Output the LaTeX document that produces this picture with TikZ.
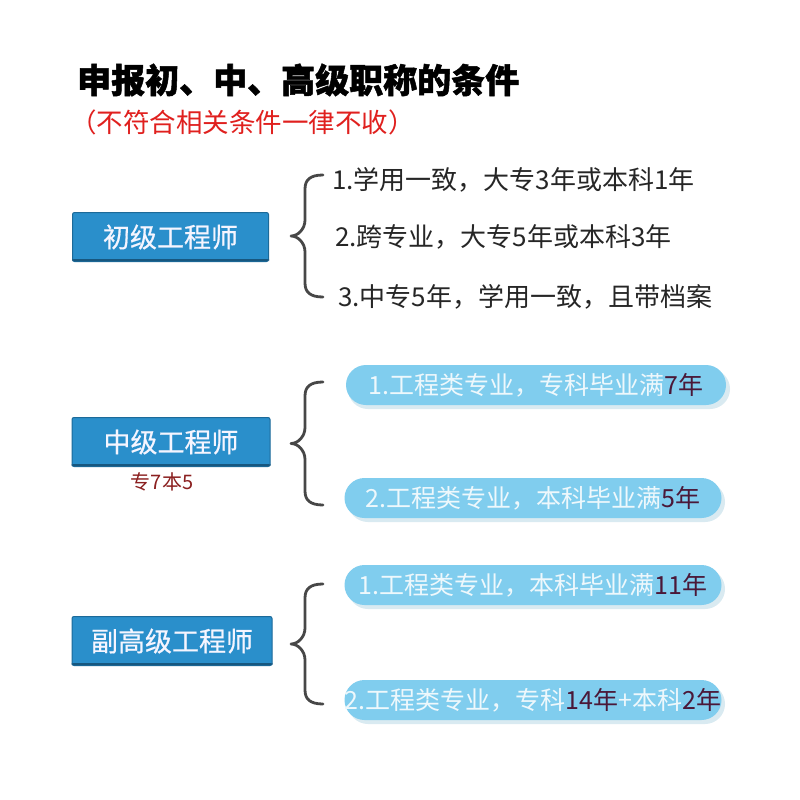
\documentclass[tikz,border=0pt]{standalone}
\usepackage{fontspec}
\setmainfont{Noto Sans CJK SC}
\usetikzlibrary{calc}
\definecolor{boxblue}{HTML}{2A8FCB}
\definecolor{boxedge}{HTML}{1C6A99}
\definecolor{boxdark}{HTML}{17577F}
\definecolor{pillblue}{HTML}{80CDEE}
\definecolor{pillshadow}{HTML}{D9EAF1}
\definecolor{pilltxt}{HTML}{EEF8FC}
\definecolor{numc}{HTML}{4A1838}
\definecolor{redtxt}{HTML}{E0201E}
\definecolor{notecol}{HTML}{8B2020}
\definecolor{bracecol}{HTML}{474747}
\tikzset{
  levelbox/.style={draw=boxedge, line width=1pt, fill=boxblue, rounded corners=2pt,
    minimum height=49pt, text=white!96!blue, font=\fontsize{27}{27}\selectfont\addfontfeatures{FakeBold=0.6}, inner sep=0pt},
  pill/.style={fill=pillblue, rounded corners=20pt, minimum height=40pt, minimum width=380pt,
    text=pilltxt, font=\fontsize{25}{25}\selectfont, inner sep=0pt},
  plain/.style={anchor=west, inner sep=0pt, text=black!85, font=\fontsize{26}{26}\selectfont},
  bracestyle/.style={draw=bracecol, line width=2.8pt, line cap=round, line join=round},
}
\newcommand{\nm}[1]{\textcolor{numc}{#1}}
% name, x of ends, y top, y bottom
\newcommand{\curlybrace}[4]{%
  \pgfmathsetmacro\cbmid{(#3+#4)/2}%
  \coordinate (#1t) at (#2,#3);
  \coordinate (#1b) at (#2,#4);
  \coordinate (#1m) at (#2-32,\cbmid);
  \draw[bracestyle] (#1t) .. controls +(-13,0) and +(0,-9) .. ++(-18,14)
    -- ($(#1m)+(14,-16)$) .. controls +(0,9) and +(7,0) .. (#1m)
    .. controls +(7,0) and +(0,-9) .. ($(#1m)+(14,16)$)
    -- ($(#1b)+(-18,-14)$) .. controls +(0,9) and +(-13,0) .. (#1b);
}
% box bottom dark strip: node name
\newcommand{\boxbase}[1]{%
  \fill[boxdark, rounded corners=2pt] ($(#1.south west)+(0,-3)$) rectangle ($(#1.south east)+(0,-1)$);
}
\begin{document}
\begin{tikzpicture}[x=1pt,y=-1pt]
\useasboundingbox (0,0) rectangle (800,800);
\fill[white] (0,0) rectangle (800,800);

% title
\node[anchor=west, inner sep=0pt, font=\fontsize{34}{34}\bfseries\addfontfeatures{FakeBold=1.5}] (title) at (77,80) {申报初、中、高级职称的条件};
\node[anchor=west, inner sep=0pt, text=redtxt, font=\fontsize{26.5}{26.5}\selectfont] (sub) at (70,122) {（不符合相关条件一律不收）};

% level 1
\node[levelbox, minimum width=196pt] (l1) at (170.5,237) {初级工程师};
\boxbase{l1}
\curlybrace{b1}{323}{175}{297}
\node[plain] (t11) at (332,180) {1.学用一致，大专3年或本科1年};
\node[plain] (t12) at (335,237) {2.跨专业，大专5年或本科3年};
\node[plain] (t13) at (338,297) {3.中专5年，学用一致，且带档案};

% level 2
\node[levelbox, minimum width=198pt] (l2) at (171,442) {中级工程师};
\boxbase{l2}
\node[inner sep=0pt, text=notecol, font=\fontsize{20}{20}\selectfont] (n2) at (162,482) {专7本5};
\curlybrace{b2}{323}{382}{505}
\fill[pillshadow, rounded corners=20pt] (348,369) rectangle (730,409);
\node[pill] (p21) at (536,385) {1.工程类专业，专科毕业满\nm{7年}};
\fill[pillshadow, rounded corners=20pt] (348,482) rectangle (725,522);
\node[pill, minimum width=377pt] (p22) at (533,498) {2.工程类专业，本科毕业满\nm{5年}};

% level 3
\node[levelbox, minimum width=200pt] (l3) at (172,641) {副高级工程师};
\boxbase{l3}
\curlybrace{b3}{323}{584}{704}
\fill[pillshadow, rounded corners=20pt] (348,569) rectangle (725,609);
\node[pill, minimum width=377pt] (p31) at (533,585) {1.工程类专业，本科毕业满\nm{11年}};
\fill[pillshadow, rounded corners=20pt] (348,684) rectangle (725,724);
\node[pill, minimum width=377pt] (p32) at (533,700) {2.工程类专业，专科\nm{14年}+本科\nm{2年}};
\end{tikzpicture}
\end{document}
